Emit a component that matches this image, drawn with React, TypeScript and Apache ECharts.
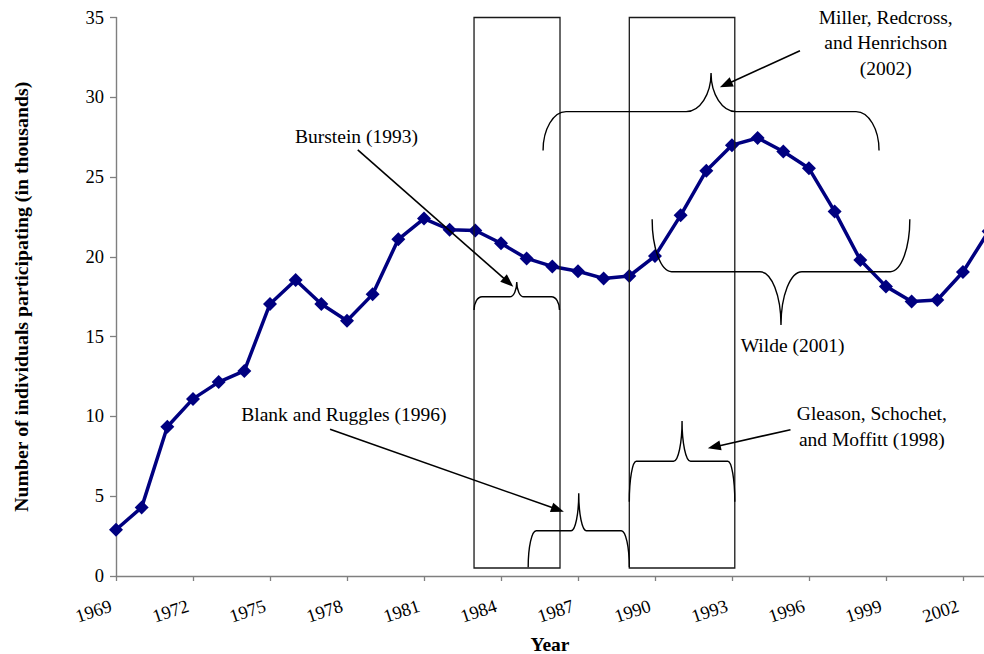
import React, { useEffect, useRef } from "react";
import * as echarts from "echarts";

// ---------- data ----------
const BASE_YEAR = 1969;
const years = [
  1969, 1970, 1971, 1972, 1973, 1974, 1975, 1976, 1977, 1978, 1979, 1980,
  1981, 1982, 1983, 1984, 1985, 1986, 1987, 1988, 1989, 1990, 1991, 1992,
  1993, 1994, 1995, 1996, 1997, 1998, 1999, 2000, 2001, 2002, 2003,
];
const participants = [
  2.9, 4.3, 9.35, 11.1, 12.15, 12.85, 17.05, 18.55, 17.05, 16.0, 17.65, 21.1,
  22.4, 21.7, 21.65, 20.85, 19.9, 19.4, 19.1, 18.65, 18.8, 20.05, 22.6, 25.4,
  27.0, 27.45, 26.6, 25.55, 22.85, 19.8, 18.15, 17.2, 17.3, 19.05, 21.6,
];
const yAxisMax = 35;
const yAxisStep = 5;
const xAxisStep = 3;
const xAxisEndYear = 2002.82;

// ---------- annotations (in data coordinates: year, thousands) ----------
const studyBoxes = [
  { x0: 1982.95, x1: 1986.3, y0: 0.5, y1: 35 },
  { x0: 1989.0, x1: 1993.11, y0: 0.5, y1: 35 },
];
const braceMarks = [
  { x0: 1982.95, x1: 1986.28, yLine: 17.5, yEnd: 16.67, yTip: 18.42, rEnd: 8, rTip: 7 },
  { x0: 1985.06, x1: 1989.0, yLine: 2.84, yEnd: 0.55, yTip: 5.18, rEnd: 8, rTip: 7.6 },
  { x0: 1989.0, x1: 1993.11, yLine: 7.19, yEnd: 4.66, yTip: 9.71, rEnd: 7, rTip: 8.5 },
  { x0: 1985.64, x1: 1998.73, yLine: 29.1, yEnd: 26.67, yTip: 31.52, rEnd: 23, rTip: 25 },
  { x0: 1989.89, x1: 1999.93, yLine: 19.07, yEnd: 22.35, yTip: 15.73, rEnd: 19.5, rTip: 21 },
];
const arrowMarks = [
  { x0: 1978.42, y0: 26.7, x1: 1984.48, y1: 18.13 },
  { x0: 1977.34, y0: 9.19, x1: 1986.45, y1: 4.03 },
  { x0: 1995.28, y0: 9.17, x1: 1992.06, y1: 8.0 },
  { x0: 1995.65, y0: 32.92, x1: 1992.53, y1: 30.63 },
];
const studyLabels = [
  { x: 1978.37, y: 27.54, text: "Burstein (1993)" },
  { x: 1977.88, y: 10.15, text: "Blank and Ruggles (1996)" },
  { x: 1998.45, y: 9.37, text: "Gleason, Schochet,\nand Moffitt (1998)" },
  { x: 1998.99, y: 33.43, text: "Miller, Redcross,\nand Henrichson\n(2002)" },
  { x: 1995.36, y: 14.43, text: "Wilde (2001)" },
];

const SERIF = "'Liberation Serif', 'Times New Roman', Times, serif";
const NAVY = "#000080";

function bracePath(
  x0: number, x1: number, yLine: number, yEnd: number, yTip: number,
  rE: number, rT: number
) {
  const k = 0.552;
  const xm = (x0 + x1) / 2;
  const hE = yEnd - yLine;
  const hT = yTip - yLine;
  return [
    `M${x0},${yEnd}`,
    `C${x0},${yEnd - k * hE} ${x0 + rE * (1 - k)},${yLine} ${x0 + rE},${yLine}`,
    `L${xm - rT},${yLine}`,
    `C${xm - rT + k * rT},${yLine} ${xm},${yTip - k * hT} ${xm},${yTip}`,
    `C${xm},${yTip - k * hT} ${xm + rT - k * rT},${yLine} ${xm + rT},${yLine}`,
    `L${x1 - rE},${yLine}`,
    `C${x1 - rE + k * rE},${yLine} ${x1},${yEnd - k * hE} ${x1},${yEnd}`,
  ].join(" ");
}

export default function App() {
  const ref = useRef<HTMLDivElement>(null);

  useEffect(() => {
    if (!ref.current) return;
    const chart = echarts.init(ref.current, null, { renderer: "svg" });

    const lineData = years.map((y, i) => [y - BASE_YEAR, participants[i]]);

    const renderAnnotations = (_params: any, api: any) => {
      const P = (yr: number, v: number) => api.coord([yr - BASE_YEAR, v]);
      const children: any[] = [];
      const stroke = { fill: "none", stroke: "#000", lineWidth: 1.3 };

      studyBoxes.forEach((b) => {
        const a = P(b.x0, b.y0);
        const c = P(b.x1, b.y1);
        children.push({
          type: "rect",
          shape: { x: a[0], y: c[1], width: c[0] - a[0], height: a[1] - c[1] },
          style: { ...stroke, stroke: "#1a1a1a" },
        });
      });

      braceMarks.forEach((b) => {
        const l = P(b.x0, b.yLine);
        const r = P(b.x1, b.yLine);
        const e = P(b.x0, b.yEnd);
        const t = P(b.x0, b.yTip);
        children.push({
          type: "path",
          shape: { pathData: bracePath(l[0], r[0], l[1], e[1], t[1], b.rEnd, b.rTip) },
          style: { ...stroke, lineWidth: 1.4 },
        });
      });

      arrowMarks.forEach((m) => {
        const s = P(m.x0, m.y0);
        const t = P(m.x1, m.y1);
        const dx = t[0] - s[0];
        const dy = t[1] - s[1];
        const len = Math.sqrt(dx * dx + dy * dy);
        const ux = dx / len;
        const uy = dy / len;
        const headL = 13;
        const headW = 5;
        const bx = t[0] - ux * headL;
        const by = t[1] - uy * headL;
        children.push({
          type: "line",
          shape: { x1: s[0], y1: s[1], x2: bx + ux * 2, y2: by + uy * 2 },
          style: { stroke: "#000", lineWidth: 1.6 },
        });
        children.push({
          type: "polygon",
          shape: {
            points: [
              [t[0], t[1]],
              [bx - uy * headW, by + ux * headW],
              [bx + uy * headW, by - ux * headW],
            ],
          },
          style: { fill: "#000", stroke: "none" },
        });
      });

      studyLabels.forEach((lb) => {
        const p = P(lb.x, lb.y);
        children.push({
          type: "text",
          x: p[0],
          y: p[1],
          style: {
            text: lb.text,
            fill: "#000",
            fontFamily: SERIF,
            fontSize: 19.5,
            lineHeight: 25.5,
            align: "center",
            verticalAlign: "middle",
            textAlign: "center",
            textVerticalAlign: "middle",
          },
        });
      });

      return { type: "group", children };
    };

    chart.setOption({
      animation: false,
      backgroundColor: "#fff",
      textStyle: { fontFamily: SERIF },
      grid: {
        left: 116,
        right: 0,
        top: 17.5,
        bottom: 78,
        containLabel: false,
        outerBoundsMode: "none",
      },
      xAxis: {
        type: "value",
        min: 0,
        max: xAxisEndYear - BASE_YEAR,
        interval: xAxisStep,
        name: "Year",
        nameLocation: "middle",
        nameGap: 58,
        nameTextStyle: {
          fontFamily: SERIF,
          fontSize: 19.5,
          fontWeight: "bold",
          color: "#000",
        },
        splitLine: { show: false },
        axisLine: { show: true, lineStyle: { color: "#7f7f7f", width: 1.4 } },
        axisTick: { show: true, length: 5, lineStyle: { color: "#7f7f7f", width: 1.3 } },
        axisLabel: {
          rotate: 18,
          margin: 28,
          padding: [0, 5, 0, 0],
          fontFamily: SERIF,
          fontSize: 18.5,
          color: "#000",
          showMaxLabel: false,
          formatter: (v: number) =>
            Math.abs(v - Math.round(v)) < 1e-6 ? String(Math.round(v) + BASE_YEAR) : "",
        },
      },
      yAxis: {
        type: "value",
        min: 0,
        max: yAxisMax,
        interval: yAxisStep,
        name: "Number of individuals participating (in thousands)",
        nameLocation: "middle",
        nameGap: 85,
        nameTextStyle: {
          fontFamily: SERIF,
          fontSize: 19.8,
          fontWeight: "bold",
          color: "#000",
        },
        splitLine: { show: false },
        axisLine: { show: true, lineStyle: { color: "#7f7f7f", width: 1.4 } },
        axisTick: { show: true, length: 6, lineStyle: { color: "#7f7f7f", width: 1.3 } },
        axisLabel: {
          margin: 12,
          fontFamily: SERIF,
          fontSize: 18.5,
          color: "#000",
        },
      },
      series: [
        {
          type: "line",
          data: lineData,
          clip: false,
          symbol: "diamond",
          symbolSize: 14,
          lineStyle: { color: NAVY, width: 3.5 },
          itemStyle: { color: NAVY },
          z: 2,
        },
        {
          type: "custom",
          coordinateSystem: "cartesian2d",
          silent: true,
          clip: false,
          data: [[0, 0]],
          renderItem: renderAnnotations,
          z: 5,
        },
      ],
    });

    return () => chart.dispose();
  }, []);

  return (
    <div
      ref={ref}
      style={{ position: "absolute", left: 0, top: 0, width: 984, height: 654 }}
    />
  );
}
